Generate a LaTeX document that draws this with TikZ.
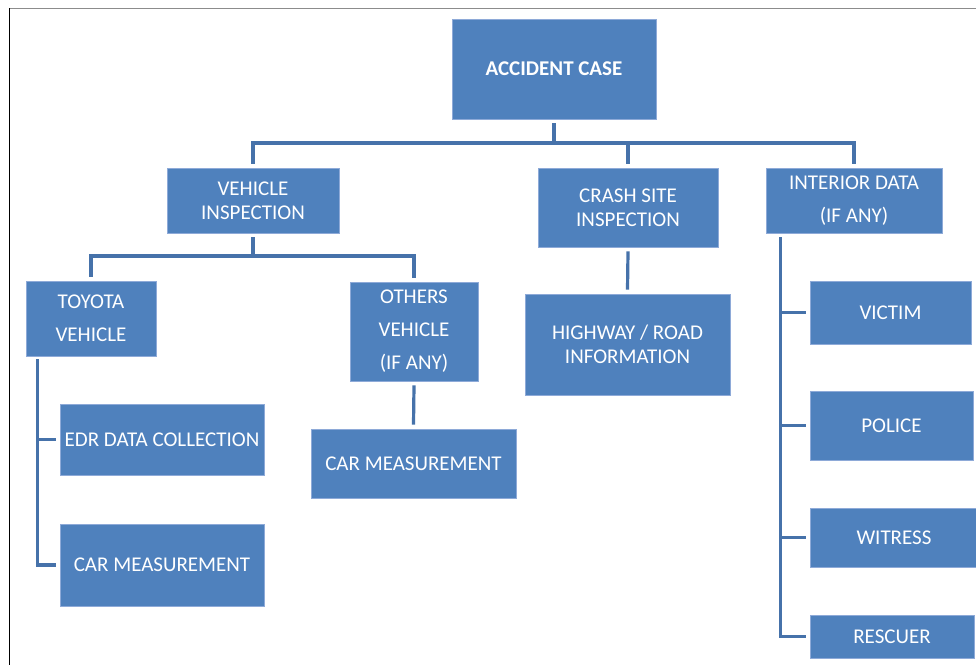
\documentclass[tikz,border=0pt]{standalone}
\usepackage{fontspec}
\setmainfont{Carlito}
\usetikzlibrary{calc}
\definecolor{boxblue}{HTML}{4F81BD}
\definecolor{boxedge}{HTML}{8EAAD8}
\definecolor{linkblue}{HTML}{4672AA}
\begin{document}
\begin{tikzpicture}[x=1pt,y=-1pt,
  box/.style={rectangle, fill=boxblue, draw=boxedge, line width=0.8pt, text=white,
    inner sep=0pt, align=center, font=\fontsize{21}{24}\selectfont},
  wide/.style={font=\fontsize{21}{33}\selectfont},
  conn/.style={draw=linkblue, line width=3.2pt}]
\useasboundingbox (0,0) rectangle (976,664);
\fill[white] (0,0) rectangle (976,664);
\draw[gray!90, line width=1.8pt] (9,8.5) -- (980,8.5);
\draw[black, line width=1.2pt] (9.5,8) -- (9.5,670);

% level 0
\node[box, minimum width=204pt, minimum height=100pt] (acc) at (554,69) {\textbf{ACCIDENT CASE}};
% level 1
\node[box, minimum width=172pt, minimum height=65pt] (vi) at (253,200.5) {VEHICLE\\INSPECTION};
\node[box, minimum width=180pt, minimum height=79pt] (cs) at (628,207.5) {CRASH SITE\\INSPECTION};
\node[box, wide, minimum width=176pt, minimum height=65pt] (id) at (854,200.5) {INTERIOR DATA\\(IF ANY)};
% level 2
\node[box, wide, minimum width=130pt, minimum height=75pt] (toy) at (91,318.5) {TOYOTA\\VEHICLE};
\node[box, wide, minimum width=128pt, minimum height=99pt] (oth) at (414,331.5) {OTHERS\\VEHICLE\\(IF ANY)};
\node[box, minimum width=205pt, minimum height=101pt] (hw) at (627.5,344.5) {HIGHWAY / ROAD\\INFORMATION};
% level 3
\node[box, minimum width=204pt, minimum height=71pt] (edr) at (162,439.5) {EDR DATA COLLECTION};
\node[box, minimum width=204pt, minimum height=82pt] (cm1) at (162,565) {CAR MEASUREMENT};
\node[box, minimum width=205pt, minimum height=69pt] (cm2) at (413.5,463.5) {CAR MEASUREMENT};
\node[box, minimum width=161pt, minimum height=63pt] (vic) at (890.5,312.5) {VICTIM};
\node[box, minimum width=163pt, minimum height=69pt] (pol) at (891.5,425.5) {POLICE};
\node[box, minimum width=168pt, minimum height=59pt] (wit) at (894,537.5) {WITRESS};
\node[box, minimum width=164pt, minimum height=43pt] (res) at (892,636.5) {RESCUER};

% connectors
\coordinate (bus1) at (0,143);
\coordinate (bus2) at (0,256);
\draw[conn] ($(acc.south)+(0,4)$) -- (acc.south |- bus1);
\draw[conn] ($(vi.north)+(0,-4)$) -- (vi.north |- bus1) -- (id.north |- bus1) -- ($(id.north)+(0,-4)$);
\draw[conn] (cs.north |- bus1) -- ($(cs.north)+(0,-4)$);

\draw[conn] ($(vi.south)+(0,4)$) -- (vi.south |- bus2);
\draw[conn] ($(toy.north)+(0,-4)$) -- (toy.north |- bus2) -- (oth.north |- bus2) -- ($(oth.north)+(0,-4)$);

\draw[conn] ($(cs.south)+(0,4)$) -- ($(hw.north)+(0,-4)$);
\draw[conn] ($(oth.south)+(0,4)$) -- ($(cm2.north)+(0,-4)$);

\coordinate (ts) at ($(toy.south west)+(12,3)$);
\draw[conn] (ts) |- ($(cm1.west)+(-4,0)$);
\draw[conn] (ts |- edr.west) -- ($(edr.west)+(-4,0)$);

\coordinate (is) at ($(id.south west)+(15,4)$);
\draw[conn] (is) |- ($(res.west)+(-4,0)$);
\draw[conn] (is |- vic.west) -- ($(vic.west)+(-4,0)$);
\draw[conn] (is |- pol.west) -- ($(pol.west)+(-4,0)$);
\draw[conn] (is |- wit.west) -- ($(wit.west)+(-4,0)$);
\end{tikzpicture}
\end{document}
